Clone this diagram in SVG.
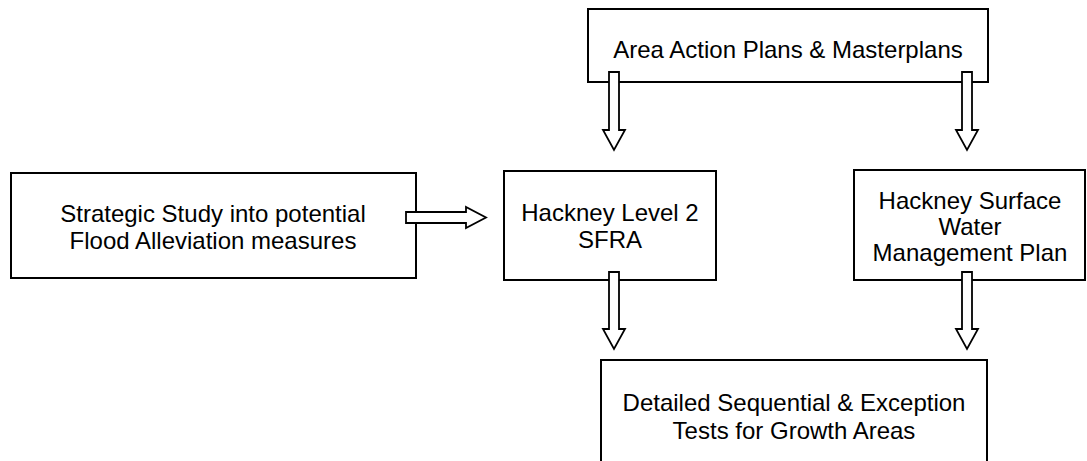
<svg xmlns="http://www.w3.org/2000/svg" width="1087" height="461" viewBox="0 0 1087 461">
  <style>
    .box { fill: #ffffff; stroke: #000000; stroke-width: 2; }
    .lbl { font-family: "Liberation Sans", Arial, sans-serif; font-size: 24px; fill: #000000; text-anchor: middle; }
    .arrow { fill: #ffffff; stroke: #000000; stroke-width: 1.8; stroke-linejoin: miter; }
  </style>
  <rect width="1087" height="461" fill="#ffffff"/>

  <g id="area-action-plans">
    <rect class="box" x="588" y="9" width="400" height="73"/>
    <text class="lbl" x="788" y="58">Area Action Plans &amp; Masterplans</text>
  </g>

  <g id="strategic-study">
    <rect class="box" x="11" y="173" width="405" height="105"/>
    <text class="lbl" x="213" y="222">Strategic Study into potential</text>
    <text class="lbl" x="213" y="249">Flood Alleviation measures</text>
  </g>

  <g id="level2-sfra">
    <rect class="box" x="504" y="171" width="212" height="109"/>
    <text class="lbl" x="610" y="221">Hackney Level 2</text>
    <text class="lbl" x="610" y="248">SFRA</text>
  </g>

  <g id="surface-water-plan">
    <rect class="box" x="854" y="170" width="231" height="110"/>
    <text class="lbl" x="970" y="209">Hackney Surface</text>
    <text class="lbl" x="970" y="235">Water</text>
    <text class="lbl" x="970" y="261">Management Plan</text>
  </g>

  <g id="sequential-tests">
    <rect class="box" x="601" y="360" width="386" height="130"/>
    <text class="lbl" x="794" y="411">Detailed Sequential &amp; Exception</text>
    <text class="lbl" x="794" y="439">Tests for Growth Areas</text>
  </g>

  <g id="connectors">
    <!-- block arrows: shaft width 10, head width 22 -->
    <polygon class="arrow" points="609,72 619,72 619,130 625,130 614,150 603,130 609,130"/>
    <polygon class="arrow" points="962,72 972,72 972,130 978,130 967,150 956,130 962,130"/>
    <polygon class="arrow" points="406,212 466,212 466,207 486,217.5 466,228 466,223 406,223"/>
    <polygon class="arrow" points="609,272 619,272 619,329 625,329 614,349 603,329 609,329"/>
    <polygon class="arrow" points="962,272 972,272 972,329 978,329 967,349 956,329 962,329"/>
  </g>
</svg>
